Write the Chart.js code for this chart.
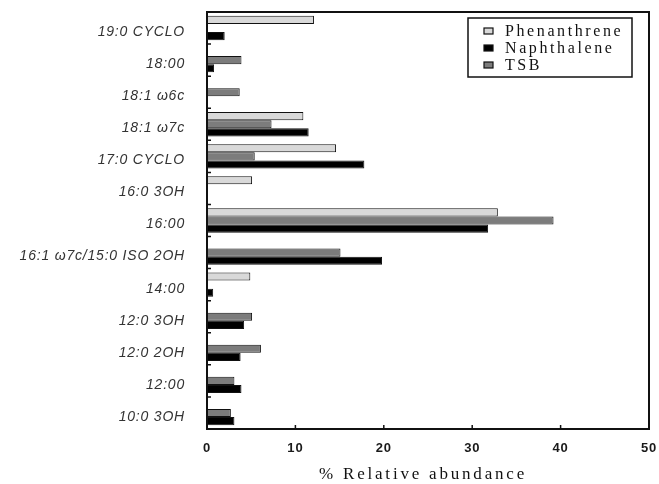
<!DOCTYPE html>
<html>
<head>
<meta charset="utf-8">
<script src="https://cdn.jsdelivr.net/npm/chart.js@4"></script>
<style>
  body { margin: 0; background: #fff; }
  #wrap { width: 659px; height: 484px; }
</style>
</head>
<body>
<div id="wrap"><canvas id="fames" width="659" height="484"></canvas></div>
<script>
const fattyAcids = ['19:0 CYCLO', '18:00', '18:1 ω6c', '18:1 ω7c', '17:0 CYCLO', '16:0 3OH', '16:00',
    '16:1 ω7c/15:0 ISO 2OH', '14:00', '12:0 3OH', '12:0 2OH', '12:00', '10:0 3OH'];
const phenanthrene = [12.1, null, null, 10.9, 14.6, 5.1, 32.9, null, 4.9, null, null, null, null];
const tsb = [null, 3.9, 3.7, 7.3, 5.4, null, 39.2, 15.1, null, 5.1, 6.1, 3.1, 2.7];
const naphthalene = [2.0, 0.8, null, 11.5, 17.8, null, 31.8, 19.8, 0.7, 4.2, 3.8, 3.9, 3.1];
const xTicks = [0, 10, 20, 30, 40, 50];

// legend order differs from bar order inside a group
const legendItems = [
    { label: 'Phenanthrene', color: '#d9d9d9' },
    { label: 'Naphthalene', color: '#000000' },
    { label: 'TSB', color: '#7c7c7c' }
];

// frame, inward ticks, legend box and axis title
const decor = {
    id: 'decor',
    beforeDraw(chart) {
        chart.ctx.letterSpacing = '0.8px';
    },
    afterDraw(chart) {
        const ctx = chart.ctx;
        const a = chart.chartArea;
        const xs = chart.scales.x;
        const ys = chart.scales.y;
        ctx.save();
        ctx.strokeStyle = '#111';
        ctx.lineWidth = 2;
        ctx.strokeRect(a.left, a.top, a.right - a.left, a.bottom - a.top);

        ctx.lineWidth = 1.5;
        ctx.beginPath();
        xTicks.slice(1, -1).forEach(v => {
            const px = xs.getPixelForValue(v);
            ctx.moveTo(px, a.bottom);
            ctx.lineTo(px, a.bottom - 4);
        });
        const slot = (ys.getPixelForValue(1) - ys.getPixelForValue(0));
        for (let i = 1; i < fattyAcids.length; i++) {
            const py = ys.getPixelForValue(i) - slot / 2;
            ctx.moveTo(a.left, py);
            ctx.lineTo(a.left + 4, py);
        }
        ctx.stroke();

        // legend
        const lx = 468, ly = 18, lw = 164, lh = 59;
        ctx.fillStyle = '#fff';
        ctx.fillRect(lx, ly, lw, lh);
        ctx.lineWidth = 1.5;
        ctx.strokeStyle = '#111';
        ctx.strokeRect(lx, ly, lw, lh);
        ctx.font = '16px "Liberation Serif", "Times New Roman", serif';
        ctx.letterSpacing = '2.6px';
        ctx.textBaseline = 'middle';
        ctx.textAlign = 'left';
        legendItems.forEach((it, i) => {
            const cy = 31 + i * 17;
            ctx.fillStyle = it.color;
            ctx.fillRect(484, cy - 3, 9, 6);
            ctx.lineWidth = 1.2;
            ctx.strokeRect(484, cy - 3, 9, 6);
            ctx.fillStyle = '#111';
            ctx.fillText(it.label, 505, cy + 1);
        });

        // axis title
        ctx.font = '17px "Liberation Serif", "Times New Roman", serif';
        ctx.letterSpacing = '2.8px';
        ctx.textAlign = 'center';
        ctx.fillStyle = '#111';
        ctx.fillText('% Relative abundance', (a.left + a.right) / 2 - 5, 475);
        ctx.restore();
    }
};

new Chart(document.getElementById('fames'), {
    type: 'bar',
    data: {
        labels: fattyAcids,
        datasets: [
            { label: 'Phenanthrene', data: phenanthrene, backgroundColor: '#d9d9d9' },
            { label: 'TSB', data: tsb, backgroundColor: '#7c7c7c' },
            { label: 'Naphthalene', data: naphthalene, backgroundColor: '#000000' }
        ].map(d => Object.assign(d, {
            borderColor: '#111',
            borderWidth: 1,
            borderSkipped: 'start',
            categoryPercentage: 0.76,
            barPercentage: 1.0
        }))
    },
    options: {
        indexAxis: 'y',
        responsive: false,
        animation: false,
        layout: { padding: { top: 12, right: 10, left: 0, bottom: 0 } },
        plugins: { legend: { display: false }, tooltip: { enabled: false } },
        scales: {
            x: {
                min: 0,
                max: 50,
                afterBuildTicks: s => { s.ticks = xTicks.map(v => ({ value: v })); },
                afterFit: s => { s.height = 55; s.paddingLeft = 0; s.paddingRight = 0; },
                grid: { display: false, drawTicks: false },
                border: { display: false },
                ticks: {
                    padding: 12,
                    color: '#1a1a1a',
                    font: { family: '"Liberation Sans", Arial, sans-serif', size: 13, weight: 'bold' }
                }
            },
            y: {
                afterFit: s => { s.width = 207; s.paddingTop = 0; s.paddingBottom = 0; },
                grid: { display: false, drawTicks: false },
                border: { display: false },
                ticks: {
                    padding: 22,
                    labelOffset: 4,
                    color: '#333',
                    font: { family: '"Liberation Sans", Arial, sans-serif', size: 14, style: 'italic' }
                }
            }
        }
    },
    plugins: [decor]
});
</script>
</body>
</html>
